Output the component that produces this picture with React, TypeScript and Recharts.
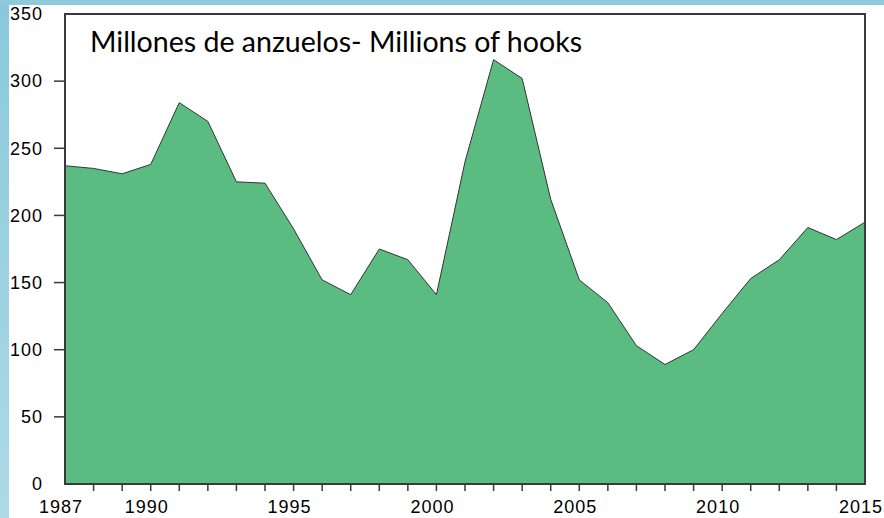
import { Area, AreaChart, ReferenceArea, XAxis, YAxis } from "recharts";

const years = [
  1987, 1988, 1989, 1990, 1991, 1992, 1993, 1994, 1995, 1996, 1997, 1998, 1999, 2000,
  2001, 2002, 2003, 2004, 2005, 2006, 2007, 2008, 2009, 2010, 2011, 2012, 2013, 2014, 2015,
];

// millions of hooks
const hooks = [
  237, 235, 231, 238, 284, 270, 225, 224, 190, 152, 141, 175, 167, 141,
  240, 316, 302, 212, 152, 135, 103, 89, 100, 127, 153, 167, 191, 182, 195,
];

const labeledYears = [1987, 1990, 1995, 2000, 2005, 2010, 2015];
const yTicks = [0, 50, 100, 150, 200, 250, 300, 350];

const data = years.map((year, i) => ({ year, hooks: hooks[i] }));

const AXIS = "#3a3a3a";
const FONT = "'Liberation Sans', Arial, sans-serif";
const X_TICK = 7;
const X_MARGIN = 9;
const Y_TICK = 11;
const Y_MARGIN = 11;

const XTick = (props: any) => {
  const { x, y, payload } = props;
  const v = payload.value as number;
  const edge = v === years[0] || v === years[years.length - 1];
  return (
    <g>
      {!edge && (
        <line x1={x} x2={x} y1={y - X_MARGIN - X_TICK} y2={y - X_MARGIN} stroke={AXIS} strokeWidth={1.5} />
      )}
      {labeledYears.includes(v) && (
        <text
          x={x}
          y={y}
          dx={-4}
          dy="0.71em"
          textAnchor="middle"
          fontSize={18}
          letterSpacing={1}
          fill="#000"
          fontFamily={FONT}
        >
          {v}
        </text>
      )}
    </g>
  );
};

const YTick = (props: any) => {
  const { x, y, payload } = props;
  const v = payload.value as number;
  const edge = v === yTicks[0] || v === yTicks[yTicks.length - 1];
  return (
    <g>
      {!edge && (
        <line x1={x + Y_MARGIN} x2={x + Y_MARGIN + Y_TICK} y1={y} y2={y} stroke={AXIS} strokeWidth={1.5} />
      )}
      <text
        x={x}
        y={y}
        dy="0.35em"
        textAnchor="end"
        fontSize={18}
        letterSpacing={1}
        fill="#000"
        fontFamily={FONT}
      >
        {v}
      </text>
    </g>
  );
};

export default function App() {
  return (
    <div style={{ position: "absolute", left: 0, top: 0, width: 884, height: 518, background: "#fff" }}>
      <div
        style={{
          position: "absolute",
          left: 0,
          top: 0,
          width: 9,
          height: 518,
          background: "linear-gradient(#88c9db, #aedae7)",
        }}
      />
      <div style={{ position: "absolute", left: 0, top: 0, width: 884, height: 5, background: "#8dcbdb" }} />
      <AreaChart
        width={884}
        height={518}
        data={data}
        margin={{ top: 14, right: 19, bottom: 0, left: 0 }}
        style={{ position: "absolute", left: 0, top: 0 }}
      >
        <XAxis
          dataKey="year"
          type="number"
          domain={[1987, 2015]}
          ticks={years}
          interval={0}
          height={34}
          tickSize={X_TICK}
          tickMargin={X_MARGIN}
          tickLine={false}
          axisLine={{ stroke: AXIS, strokeWidth: 2 }}
          tick={<XTick />}
        />
        <YAxis
          type="number"
          domain={[0, 350]}
          ticks={yTicks}
          interval={0}
          width={65}
          tickSize={Y_TICK}
          tickMargin={Y_MARGIN}
          tickLine={false}
          axisLine={{ stroke: AXIS, strokeWidth: 2 }}
          tick={<YTick />}
        />
        <Area
          type="linear"
          dataKey="hooks"
          stroke="#333"
          strokeWidth={1}
          fill="#5bbc82"
          fillOpacity={1}
          isAnimationActive={false}
        />
        <ReferenceArea x1={1987} x2={2015} y1={0} y2={350} fill="none" stroke={AXIS} strokeWidth={2} />
      </AreaChart>
      <svg width={884} height={518} style={{ position: "absolute", left: 0, top: 0, pointerEvents: "none" }}>
        <text
          x={90}
          y={52}
          fontSize={28}
          fontFamily="Lato, 'Open Sans', sans-serif"
          fill="#000"
          textLength={492}
          lengthAdjust="spacingAndGlyphs"
        >
          Millones de anzuelos- Millions of hooks
        </text>
      </svg>
    </div>
  );
}
